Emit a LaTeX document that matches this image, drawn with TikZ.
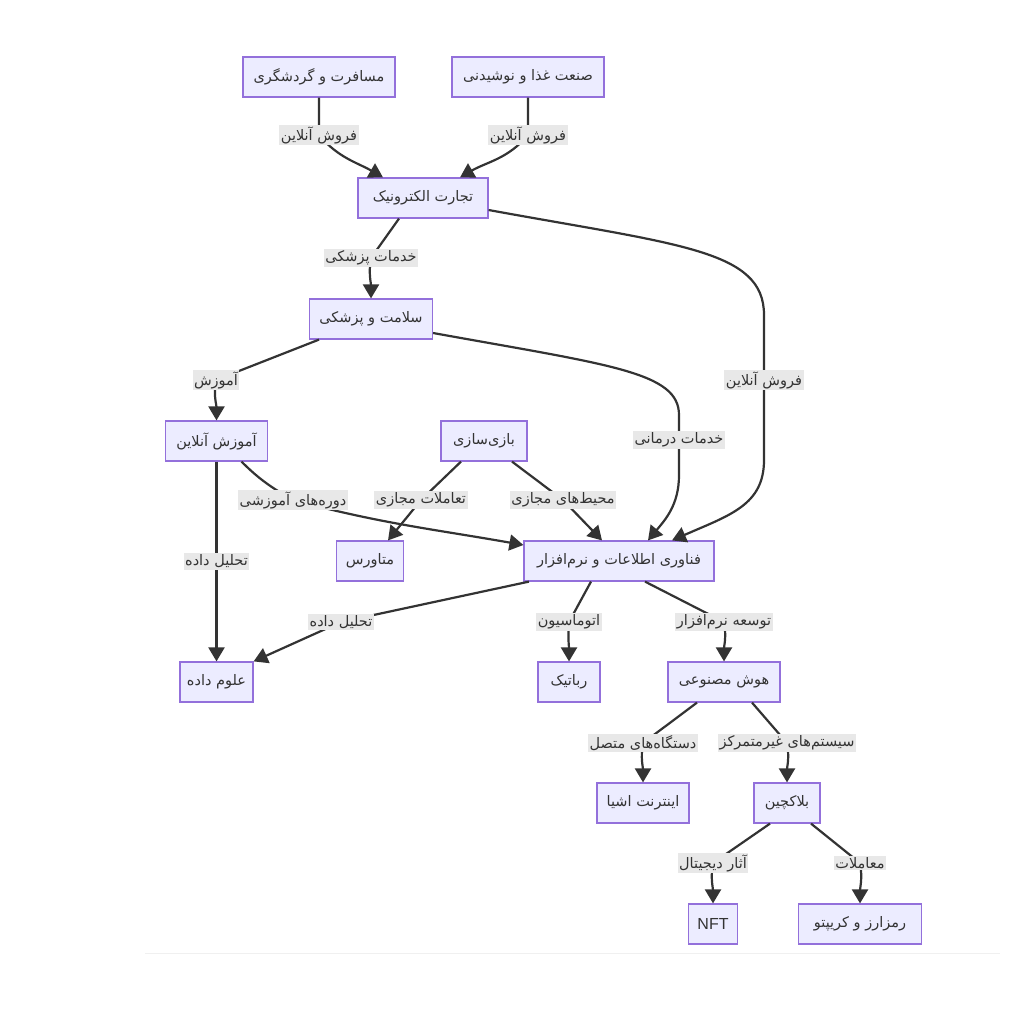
\documentclass[tikz,border=0pt]{standalone}
\usepackage{fontspec}
\setmainfont{Liberation Sans}
\newfontfamily\arabicfont[Script=Arabic]{DejaVu Sans}
\TeXXeTstate=1
\usetikzlibrary{arrows.meta, positioning}
\definecolor{nodefill}{HTML}{ECECFF}
\definecolor{nodeline}{HTML}{9370DB}
\definecolor{edgeline}{HTML}{333333}
\definecolor{lblfill}{HTML}{E8E8E8}
\newcommand{\fa}[1]{{\arabicfont\beginR #1\endR}}

\begin{document}
\begin{tikzpicture}[x=1pt, y=1pt,
    box/.style={draw=nodeline, fill=nodefill, line width=1.2pt, minimum height=40pt, inner sep=0pt, text=edgeline, font=\fontsize{14.5}{16}\selectfont},
    lbl/.style={fill=lblfill, inner sep=1.5pt, text=edgeline, font=\fontsize{14.5}{16}\selectfont},
    edge/.style={draw=edgeline, line width=2.2pt, -{Triangle[length=14pt,width=16pt]}}]
    \useasboundingbox (0,0) rectangle (1024,-1020);
    \draw[black!6, line width=0.8pt] (145,-953) -- (1000,-953);

    \node[box, minimum width=152] (safar) at (319,-77) {\fa{مسافرت و گردشگری}};
    \node[box, minimum width=152] (ghaza) at (528,-77) {\fa{صنعت غذا و نوشیدنی}};
    \node[box, minimum width=130] (tejarat) at (423,-198) {\fa{تجارت الکترونیک}};
    \node[box, minimum width=123] (salamat) at (371,-319) {\fa{سلامت و پزشکی}};
    \node[box, minimum width=102] (amoozesh) at (216.5,-441) {\fa{آموزش آنلاین}};
    \node[box, minimum width=86] (bazi) at (484,-441) {\fa{بازی‌سازی}};
    \node[box, minimum width=67] (metaverse) at (370,-561) {\fa{متاورس}};
    \node[box, minimum width=190] (it) at (619,-561) {\fa{فناوری اطلاعات و نرم‌افزار}};
    \node[box, minimum width=73] (data) at (216.5,-682) {\fa{علوم داده}};
    \node[box, minimum width=62] (robot) at (569,-682) {\fa{رباتیک}};
    \node[box, minimum width=112] (ai) at (724,-682) {\fa{هوش مصنوعی}};
    \node[box, minimum width=92] (iot) at (643,-803) {\fa{اینترنت اشیا}};
    \node[box, minimum width=66] (block) at (787,-803) {\fa{بلاکچین}};
    \node[box, minimum width=49, font=\fontsize{16}{18}\selectfont] (nft) at (713,-924) {NFT};
    \node[box, minimum width=123] (crypto) at (860,-924) {\fa{رمزارز و کریپتو}};

    % edges, each one passes through its label
    \draw[edge] (safar.south) -- (319,-135) node[lbl] (l1) {\fa{فروش آنلاین}} to[out=-50, in=150] ([xshift=-40]tejarat.north);
    \draw[edge] (ghaza.south) -- (528,-135) node[lbl] (l2) {\fa{فروش آنلاین}} to[out=-130, in=30] ([xshift=37]tejarat.north);
    \draw[edge] ([xshift=-24]tejarat.south) -- (371,-258) node[lbl] (l3) {\fa{خدمات پزشکی}} to[out=-100, in=90] (salamat.north);
    \draw[edge] ([yshift=-12]tejarat.east) .. controls (680,-245) and (764,-250) .. (764,-315) -- (764,-380) node[lbl] (l4) {\fa{فروش آنلاین}} -- (764,-460) .. controls (764,-505) and (730,-515) .. ([xshift=53]it.north);
    \draw[edge] ([xshift=-52]salamat.south) -- (216,-380) node[lbl] (l5) {\fa{آموزش}} to[out=-100, in=90] (amoozesh.north);
    \draw[edge] ([yshift=-14]salamat.east) .. controls (610,-365) and (679,-372) .. (679,-415) -- (679,-440) node[lbl] (l6) {\fa{خدمات درمانی}} -- (679,-475) .. controls (679,-505) and (665,-520) .. ([xshift=29]it.north);
    \draw[edge] ([xshift=25]amoozesh.south) to[out=-45, in=150] (293,-500) node[lbl] (l7) {\fa{دوره‌های آموزشی}} to[out=-15, in=170] ([yshift=16]it.west);
    \draw[edge] (amoozesh) -- node[lbl] (l8) {\fa{تحلیل داده}} (data);
    \draw[edge] ([xshift=-23]bazi.south) -- (421,-500) node[lbl] (l9) {\fa{تعاملات مجازی}} -- ([xshift=18]metaverse.north);
    \draw[edge] ([xshift=28]bazi.south) -- (563,-500) node[lbl] (l10) {\fa{محیط‌های مجازی}} -- ([xshift=-17]it.north);
    \draw[edge] ([xshift=-90]it.south) -- (341,-622) node[lbl] (l11) {\fa{تحلیل داده}} -- (data.north east);
    \draw[edge] ([xshift=-28]it.south) -- (569,-622) node[lbl] (l12) {\fa{اتوماسیون}} to[out=-95, in=90] (robot.north);
    \draw[edge] ([xshift=26]it.south) -- (724,-622) node[lbl] (l13) {\fa{توسعه نرم‌افزار}} to[out=-80, in=90] (ai.north);
    \draw[edge] ([xshift=-27]ai.south) -- (643,-743) node[lbl] (l14) {\fa{دستگاه‌های متصل}} to[out=-100, in=90] (iot.north);
    \draw[edge] ([xshift=28]ai.south) -- (787,-743) node[lbl] (l15) {\fa{سیستم‌های غیرمتمرکز}} to[out=-80, in=90] (block.north);
    \draw[edge] ([xshift=-17]block.south) -- (713,-863) node[lbl] (l16) {\fa{آثار دیجیتال}} to[out=-100, in=90] (nft.north);
    \draw[edge] ([xshift=24]block.south) -- (860,-863) node[lbl] (l17) {\fa{معاملات}} to[out=-80, in=90] (crypto.north);
\end{tikzpicture}
\end{document}
